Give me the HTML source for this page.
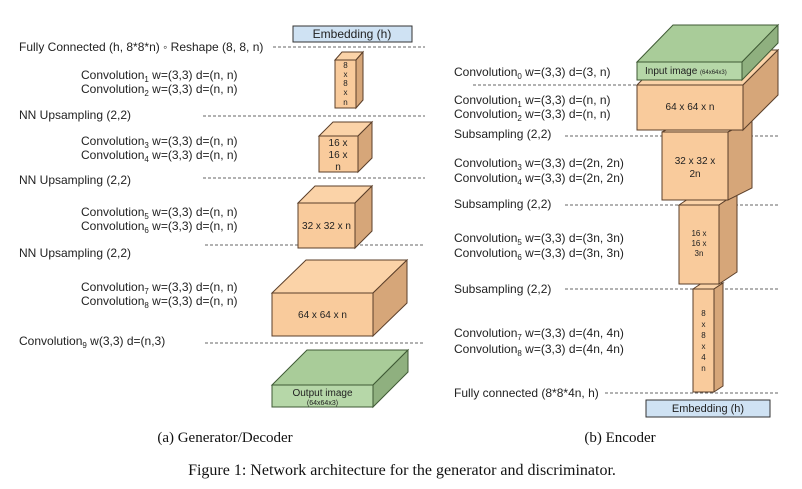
<!DOCTYPE html>
<html><head><meta charset="utf-8"><style>
body{margin:0;background:#fff;}
svg{display:block;font-family:"Liberation Sans",sans-serif;}
.t{font-size:12px;fill:#222;}
.s{font-size:8px;}
.d{stroke:#666;stroke-width:1;stroke-dasharray:3,2;}
.or{fill:#f9cb9c;stroke:#5b3f2a;stroke-width:1;}
.ot{fill:#fbd3a8;stroke:#5b3f2a;stroke-width:1;}
.os{fill:#d6a679;stroke:#5b3f2a;stroke-width:1;}
.gr{fill:#b6d7a8;stroke:#3f5a35;stroke-width:1;}
.gt{fill:#a9cc99;stroke:#3f5a35;stroke-width:1;}
.gs{fill:#8fb07f;stroke:#3f5a35;stroke-width:1;}
.bl{fill:#cfe2f3;stroke:#333;stroke-width:1;}
.bt{font-size:9px;fill:#222;text-anchor:middle;}
.cap{font-family:"Liberation Serif",serif;fill:#111;text-anchor:middle;}
</style></head><body>
<svg width="802" height="489" viewBox="0 0 802 489">
<!-- LEFT -->
<rect class="bl" x="293" y="26" width="119" height="16"/>
<text x="352" y="38" class="t" text-anchor="middle">Embedding (h)</text>
<line class="d" x1="273" y1="47" x2="425" y2="47"/>
<line class="d" x1="203" y1="116" x2="425" y2="116"/>
<line class="d" x1="203" y1="178" x2="425" y2="178"/>
<line class="d" x1="205" y1="245" x2="425" y2="245"/>
<line class="d" x1="205" y1="343" x2="425" y2="343"/>

<text class="t" x="19" y="51">Fully Connected (h, 8*8*n) ◦ Reshape (8, 8, n)</text>
<text class="t" x="81" y="79">Convolution<tspan class="s" dy="3">1</tspan><tspan dy="-3"> w=(3,3) d=(n, n)</tspan></text>
<text class="t" x="81" y="93">Convolution<tspan class="s" dy="3">2</tspan><tspan dy="-3"> w=(3,3) d=(n, n)</tspan></text>
<text class="t" x="19" y="119">NN Upsampling (2,2)</text>
<text class="t" x="81" y="145">Convolution<tspan class="s" dy="3">3</tspan><tspan dy="-3"> w=(3,3) d=(n, n)</tspan></text>
<text class="t" x="81" y="159">Convolution<tspan class="s" dy="3">4</tspan><tspan dy="-3"> w=(3,3) d=(n, n)</tspan></text>
<text class="t" x="19" y="184">NN Upsampling (2,2)</text>
<text class="t" x="81" y="216">Convolution<tspan class="s" dy="3">5</tspan><tspan dy="-3"> w=(3,3) d=(n, n)</tspan></text>
<text class="t" x="81" y="230">Convolution<tspan class="s" dy="3">6</tspan><tspan dy="-3"> w=(3,3) d=(n, n)</tspan></text>
<text class="t" x="19" y="257">NN Upsampling (2,2)</text>
<text class="t" x="81" y="291">Convolution<tspan class="s" dy="3">7</tspan><tspan dy="-3"> w=(3,3) d=(n, n)</tspan></text>
<text class="t" x="81" y="305">Convolution<tspan class="s" dy="3">8</tspan><tspan dy="-3"> w=(3,3) d=(n, n)</tspan></text>
<text class="t" x="19" y="345">Convolution<tspan class="s" dy="3">9</tspan><tspan dy="-3"> w(3,3) d=(n,3)</tspan></text>

<!-- A 8x8xn -->
<polygon class="ot" points="335,60 342,52 363,52 356,60"/>
<polygon class="os" points="356,60 363,52 363,100 356,108"/>
<rect class="or" x="335" y="60" width="21" height="48"/>
<text class="bt" style="font-size:8px" x="345.5" y="68">8</text>
<text class="bt" style="font-size:8px" x="345.5" y="77">x</text>
<text class="bt" style="font-size:8px" x="345.5" y="86">8</text>
<text class="bt" style="font-size:8px" x="345.5" y="95">x</text>
<text class="bt" style="font-size:8px" x="345.5" y="105">n</text>
<!-- B -->
<polygon class="ot" points="319,136 333,122 372,122 358,136"/>
<polygon class="os" points="358,136 372,122 372,158 358,172"/>
<rect class="or" x="319" y="136" width="39" height="36"/>
<text class="bt" style="font-size:10px" x="338" y="146">16 x</text>
<text class="bt" style="font-size:10px" x="338" y="158">16 x</text>
<text class="bt" style="font-size:10px" x="338" y="170">n</text>
<!-- C -->
<polygon class="ot" points="298,203 315,186 372,186 355,203"/>
<polygon class="os" points="355,203 372,186 372,231 355,248"/>
<rect class="or" x="298" y="203" width="57" height="45"/>
<text class="bt" style="font-size:10px" x="326.5" y="229">32 x 32 x n</text>
<!-- D -->
<polygon class="ot" points="272,293 306,260 407,260 373,293"/>
<polygon class="os" points="373,293 407,260 407,303 373,336"/>
<rect class="or" x="272" y="293" width="101" height="43"/>
<text class="bt" style="font-size:10px" x="322.5" y="318">64 x 64 x n</text>
<!-- E -->
<polygon class="gt" points="272,385 307,350 408,350 373,385"/>
<polygon class="gs" points="373,385 408,350 408,372 373,407"/>
<rect class="gr" x="272" y="385" width="101" height="22"/>
<text class="bt" style="font-size:10px" x="322.5" y="396">Output image</text>
<text class="bt" style="font-size:7px" x="322.5" y="405">(64x64x3)</text>

<!-- RIGHT -->
<line class="d" x1="473" y1="85" x2="778" y2="85"/>
<line class="d" x1="565" y1="136" x2="780" y2="136"/>
<line class="d" x1="565" y1="205" x2="780" y2="205"/>
<line class="d" x1="565" y1="289" x2="780" y2="289"/>
<line class="d" x1="605" y1="393" x2="780" y2="393"/>

<!-- J -->
<polygon class="ot" points="693,289 702,283 723,283 714,289"/>
<polygon class="os" points="714,289 723,283 723,386 714,392"/>
<rect class="or" x="693" y="289" width="21" height="103"/>
<text class="bt" style="font-size:8px" x="703.5" y="316">8</text>
<text class="bt" style="font-size:8px" x="703.5" y="327">x</text>
<text class="bt" style="font-size:8px" x="703.5" y="338">8</text>
<text class="bt" style="font-size:8px" x="703.5" y="349">x</text>
<text class="bt" style="font-size:8px" x="703.5" y="360">4</text>
<text class="bt" style="font-size:8px" x="703.5" y="371">n</text>
<!-- I -->
<polygon class="ot" points="679,205 697,193 737,193 719,205"/>
<polygon class="os" points="719,205 737,193 737,272 719,284"/>
<rect class="or" x="679" y="205" width="40" height="79"/>
<text class="bt" style="font-size:8px" x="699" y="236">16 x</text>
<text class="bt" style="font-size:8px" x="699" y="246">16 x</text>
<text class="bt" style="font-size:8px" x="699" y="256">3n</text>
<!-- H -->
<polygon class="ot" points="662,132 686,120 752,120 728,132"/>
<polygon class="os" points="728,132 752,120 752,188 728,200"/>
<rect class="or" x="662" y="132" width="66" height="68"/>
<text class="bt" style="font-size:10px" x="695" y="164">32 x 32 x</text>
<text class="bt" style="font-size:10px" x="695" y="177">2n</text>
<!-- G -->
<polygon class="ot" points="637,85 672,50 778,50 743,85"/>
<polygon class="os" points="743,85 778,50 778,95 743,130"/>
<rect class="or" x="637" y="85" width="106" height="45"/>
<text class="bt" style="font-size:10px" x="690" y="110">64 x 64 x n</text>
<!-- F -->
<polygon class="gt" points="637,62 673,25 778,25 742,62"/>
<polygon class="gs" points="742,62 778,25 778,43 742,80"/>
<rect class="gr" x="637" y="62" width="105" height="18"/>
<text x="645" y="74" style="font-size:10px;fill:#222">Input image <tspan style="font-size:6px">(64x64x3)</tspan></text>

<rect class="bl" x="646" y="400" width="124" height="17"/>
<text x="708" y="412" class="t" text-anchor="middle" style="font-size:11px">Embedding (h)</text>

<text class="t" x="454" y="76">Convolution<tspan class="s" dy="3">0</tspan><tspan dy="-3"> w=(3,3) d=(3, n)</tspan></text>
<text class="t" x="454" y="104">Convolution<tspan class="s" dy="3">1</tspan><tspan dy="-3"> w=(3,3) d=(n, n)</tspan></text>
<text class="t" x="454" y="118">Convolution<tspan class="s" dy="3">2</tspan><tspan dy="-3"> w=(3,3) d=(n, n)</tspan></text>
<text class="t" x="454" y="138">Subsampling (2,2)</text>
<text class="t" x="454" y="167">Convolution<tspan class="s" dy="3">3</tspan><tspan dy="-3"> w=(3,3) d=(2n, 2n)</tspan></text>
<text class="t" x="454" y="182">Convolution<tspan class="s" dy="3">4</tspan><tspan dy="-3"> w=(3,3) d=(2n, 2n)</tspan></text>
<text class="t" x="454" y="208">Subsampling (2,2)</text>
<text class="t" x="454" y="242">Convolution<tspan class="s" dy="3">5</tspan><tspan dy="-3"> w=(3,3) d=(3n, 3n)</tspan></text>
<text class="t" x="454" y="257">Convolution<tspan class="s" dy="3">6</tspan><tspan dy="-3"> w=(3,3) d=(3n, 3n)</tspan></text>
<text class="t" x="454" y="293">Subsampling (2,2)</text>
<text class="t" x="454" y="337">Convolution<tspan class="s" dy="3">7</tspan><tspan dy="-3"> w=(3,3) d=(4n, 4n)</tspan></text>
<text class="t" x="454" y="353">Convolution<tspan class="s" dy="3">8</tspan><tspan dy="-3"> w=(3,3) d=(4n, 4n)</tspan></text>
<text class="t" x="454" y="397">Fully connected (8*8*4n, h)</text>

<text class="cap" x="225" y="442" style="font-size:15px">(a) Generator/Decoder</text>
<text class="cap" x="620" y="442" style="font-size:15px">(b) Encoder</text>
<text class="cap" x="402" y="475" style="font-size:16px">Figure 1: Network architecture for the generator and discriminator.</text>
</svg>
</body></html>
